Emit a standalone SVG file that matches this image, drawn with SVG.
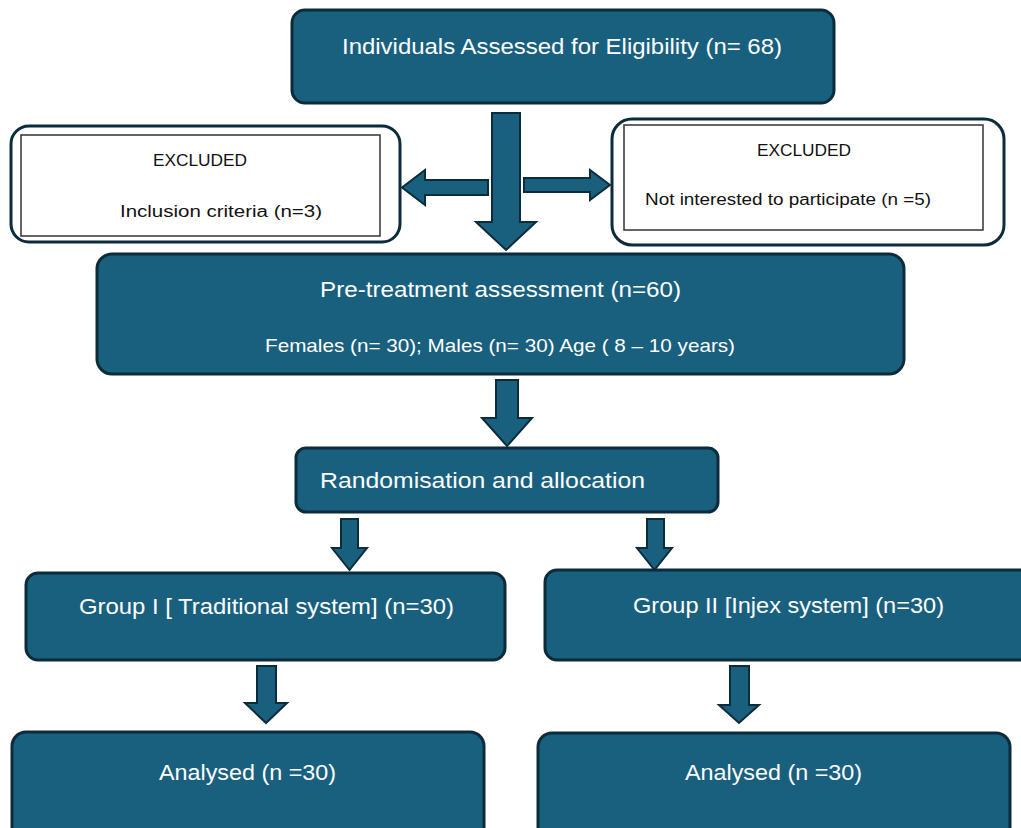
<svg xmlns="http://www.w3.org/2000/svg" width="1021" height="828" viewBox="0 0 1021 828">
<style>
.box{fill:#19607f;stroke:#0c2b3b;stroke-width:3}
.exo{fill:#fff;stroke:#0c2b3b;stroke-width:3}
.exi{fill:#fff;stroke:#333;stroke-width:1.5}
.arr{fill:#19607f;stroke:#0c2b3b;stroke-width:2;stroke-linejoin:miter}
.wt{fill:#fff;font-family:"Liberation Sans",Arial,sans-serif;font-size:22px}
.wm{fill:#fff;font-family:"Liberation Sans",Arial,sans-serif;font-size:19px}
.bt{fill:#111;font-family:"Liberation Sans",Arial,sans-serif;font-size:16px}
</style>
<rect width="1021" height="828" fill="#fff"/>
<g id="connectors">
<polygon class="arr" points="492,113 520,113 520,222 536,222 506,250 476,222 492,222"/>
<polygon class="arr" points="488,180 488,195 425,195 425,205 402,187.5 425,170 425,180"/>
<polygon class="arr" points="524,178 590,178 590,170 610,185 590,200 590,192 524,192"/>
<polygon class="arr" points="496,380 518,380 518,418 532,418 507,446 482,418 496,418"/>
<polygon class="arr" points="341,519 358,519 358,548 367,548 349.5,570 332,548 341,548"/>
<polygon class="arr" points="647,519 664,519 664,548 672,548 654.5,570 637,548 647,548"/>
<polygon class="arr" points="257,666 276,666 276,703 287,703 266,723 245,703 257,703"/>
<polygon class="arr" points="730,666 749,666 749,705 759,705 739,723 719,705 730,705"/>
</g>
<g id="n1">
<rect class="box" x="292" y="10" width="542" height="93" rx="13"/>
<text class="wt" x="342" y="54" textLength="440" lengthAdjust="spacingAndGlyphs">Individuals Assessed for Eligibility (n= 68)</text>
</g>
<g id="ex1">
<rect class="exo" x="11" y="126" width="389" height="116" rx="18"/>
<rect class="exi" x="21" y="135" width="359" height="101"/>
<text class="bt" x="153" y="166" textLength="94" lengthAdjust="spacingAndGlyphs">EXCLUDED</text>
<text class="bt" x="120" y="217" textLength="202" lengthAdjust="spacingAndGlyphs">Inclusion criteria (n=3)</text>
</g>
<g id="ex2">
<rect class="exo" x="612" y="119" width="392" height="126" rx="20"/>
<rect class="exi" x="624" y="125" width="359" height="105"/>
<text class="bt" x="757" y="156" textLength="94" lengthAdjust="spacingAndGlyphs">EXCLUDED</text>
<text class="bt" x="645" y="205" textLength="286" lengthAdjust="spacingAndGlyphs">Not interested to participate (n =5)</text>
</g>
<g id="n2">
<rect class="box" x="97" y="254" width="807" height="120" rx="15"/>
<text class="wt" x="320" y="297" textLength="361" lengthAdjust="spacingAndGlyphs">Pre-treatment assessment (n=60)</text>
<text class="wm" x="265" y="352" textLength="470" lengthAdjust="spacingAndGlyphs">Females (n= 30); Males (n= 30)  Age ( 8 – 10 years)</text>
</g>
<g id="n3">
<rect class="box" x="296" y="448" width="422" height="64" rx="10"/>
<text class="wt" x="320" y="488" textLength="325" lengthAdjust="spacingAndGlyphs">Randomisation and allocation</text>
</g>
<g id="n4">
<rect class="box" x="26" y="573" width="479" height="87" rx="12"/>
<text class="wt" x="79" y="614" textLength="375" lengthAdjust="spacingAndGlyphs">Group I [ Traditional system] (n=30)</text>
</g>
<g id="n5">
<rect class="box" x="545" y="570" width="490" height="90" rx="12"/>
<text class="wt" x="633" y="613" textLength="311" lengthAdjust="spacingAndGlyphs">Group II [Injex system] (n=30)</text>
</g>
<g id="n6">
<rect class="box" x="12" y="732" width="472" height="110" rx="14"/>
<text class="wt" x="159" y="780" textLength="177" lengthAdjust="spacingAndGlyphs">Analysed (n =30)</text>
</g>
<g id="n7">
<rect class="box" x="538" y="733" width="472" height="110" rx="14"/>
<text class="wt" x="685" y="780" textLength="177" lengthAdjust="spacingAndGlyphs">Analysed (n =30)</text>
</g>
</svg>
